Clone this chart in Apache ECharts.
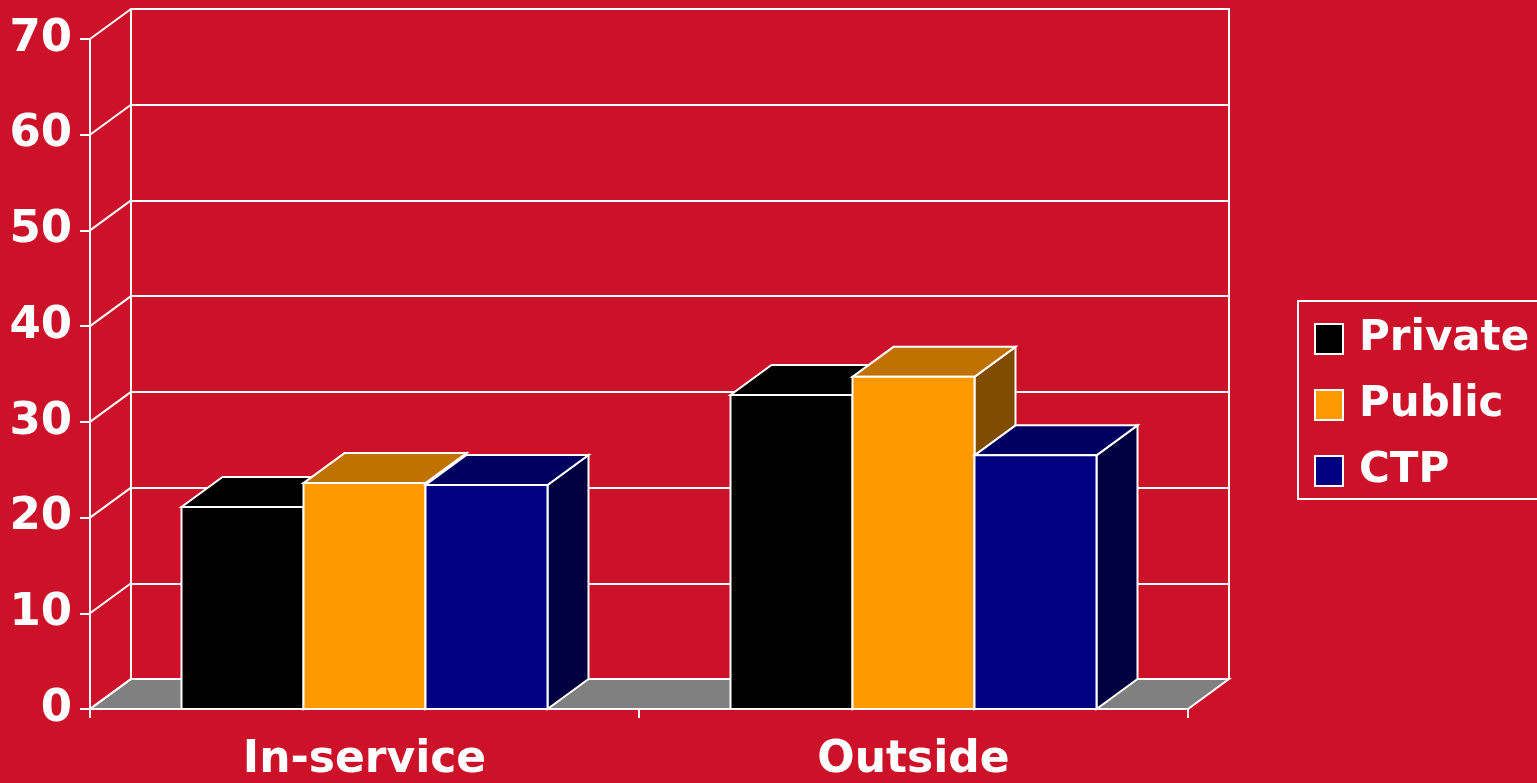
<!DOCTYPE html>
<html>
<head>
<meta charset="utf-8">
<title>In-service vs Outside</title>
<script src="https://cdn.jsdelivr.net/npm/echarts@6/dist/echarts.min.js"></script>
<style>
  html, body { margin: 0; padding: 0; background: #CC1128; }
  #chart { width: 1537px; height: 783px; }
</style>
</head>
<body>
<div id="chart"></div>
<script>
// ---- data ----
const categories = ['In-service', 'Outside'];
const seriesNames = ['Private', 'Public', 'CTP'];
const privateValues = [21.1, 32.8];
const publicValues = [23.6, 34.7];
const ctpValues = [23.4, 26.5];
const yTicks = [0, 10, 20, 30, 40, 50, 60, 70];

// ---- style ----
const BG = '#CC1128';
const FONT = 'DejaVu Sans';
const LINE_W = 2;
const DEPTH = [41, -30];          // screen offset from front plane to back wall
const FRONT = { left: 90, top: 39, width: 1098, height: 670 };
const GROUP_FRACTION = 2 / 3;     // share of a category band taken by the bar cluster
const faces = [
  { front: '#000000', top: '#000000', side: '#000000' },
  { front: '#FF9900', top: '#BF7200', side: '#7F4C00' },
  { front: '#000080', top: '#000060', side: '#000040' }
];
const EDGE = { stroke: '#ffffff', lineWidth: LINE_W, lineJoin: 'miter' };

const chart = echarts.init(document.getElementById('chart'), null, { renderer: 'canvas' });

function barRenderer(idx, face) {
  return function (params, api) {
    const cat = api.value(0);
    const val = api.value(1);
    const top = api.coord([cat, val]);
    const base = api.coord([cat, 0]);
    const band = api.size([1, 0])[0];
    const w = band * GROUP_FRACTION / 3;
    const x0 = top[0] - 1.5 * w + idx * w;
    const x1 = x0 + w;
    const yt = top[1], yb = base[1];
    const dx = DEPTH[0], dy = DEPTH[1];
    return {
      type: 'group',
      children: [
        { type: 'polygon', shape: { points: [[x1, yt], [x1 + dx, yt + dy], [x1 + dx, yb + dy], [x1, yb]] },
          style: Object.assign({ fill: face.side }, EDGE) },
        { type: 'polygon', shape: { points: [[x0, yt], [x1, yt], [x1 + dx, yt + dy], [x0 + dx, yt + dy]] },
          style: Object.assign({ fill: face.top }, EDGE) },
        { type: 'rect', shape: { x: x0, y: yt, width: w, height: yb - yt },
          style: Object.assign({ fill: face.front }, EDGE) }
      ]
    };
  };
}

const valueSets = [privateValues, publicValues, ctpValues];
const barSeries = seriesNames.map(function (name, i) {
  return {
    name: name,
    type: 'custom',
    xAxisIndex: 0,
    yAxisIndex: 0,
    z: 5,
    itemStyle: { color: faces[i].front, borderColor: '#ffffff', borderWidth: 1.5 },
    data: valueSets[i].map(function (v, c) { return [c, v]; }),
    renderItem: barRenderer(i, faces[i])
  };
});

// left side wall: slanted lines joining front ticks to back wall grid lines
const wallSeries = {
  type: 'custom',
  xAxisIndex: 0,
  yAxisIndex: 0,
  z: 3,
  silent: true,
  data: yTicks.map(function (v) { return [0, v]; }),
  renderItem: function (params, api) {
    const y = api.coord([0, api.value(1)])[1];
    const x = params.coordSys.x;
    return { type: 'line', shape: { x1: x, y1: y, x2: x + DEPTH[0], y2: y + DEPTH[1] },
             style: { stroke: '#ffffff', lineWidth: LINE_W } };
  }
};

// grey floor
const floorSeries = {
  type: 'custom',
  xAxisIndex: 0,
  yAxisIndex: 0,
  z: 2,
  silent: true,
  data: [[0, 0]],
  renderItem: function (params, api) {
    const cs = params.coordSys;
    const yb = api.coord([0, 0])[1];
    const dx = DEPTH[0], dy = DEPTH[1];
    return { type: 'polygon',
             shape: { points: [[cs.x, yb], [cs.x + cs.width, yb], [cs.x + cs.width + dx, yb + dy], [cs.x + dx, yb + dy]] },
             style: { fill: '#808080', stroke: '#ffffff', lineWidth: LINE_W } };
  }
};

const option = {
  backgroundColor: BG,
  animation: false,
  textStyle: { fontFamily: FONT },
  grid: [
    { left: FRONT.left, top: FRONT.top, width: FRONT.width, height: FRONT.height, containLabel: false },
    { left: FRONT.left + DEPTH[0], top: FRONT.top + DEPTH[1], width: FRONT.width, height: FRONT.height,
      show: true, borderColor: '#ffffff', borderWidth: LINE_W, backgroundColor: 'transparent', containLabel: false }
  ],
  xAxis: [
    {
      gridIndex: 0,
      type: 'category',
      data: categories,
      boundaryGap: true,
      axisLine: { show: true, lineStyle: { color: '#ffffff', width: LINE_W } },
      axisTick: { show: true, length: 9, lineStyle: { color: '#ffffff', width: LINE_W } },
      axisLabel: { color: '#ffffff', fontFamily: FONT, fontWeight: 'bold', fontSize: 44, margin: 30 },
      splitLine: { show: false }
    },
    {
      gridIndex: 1,
      type: 'category',
      data: categories,
      show: false
    }
  ],
  yAxis: [
    {
      gridIndex: 0,
      type: 'value',
      min: 0, max: 70, interval: 10,
      axisLine: { show: true, lineStyle: { color: '#ffffff', width: LINE_W } },
      axisTick: { show: true, length: 10, lineStyle: { color: '#ffffff', width: LINE_W } },
      axisLabel: { color: '#ffffff', fontFamily: FONT, fontWeight: 'bold', fontSize: 45, margin: 18 },
      splitLine: { show: false }
    },
    {
      gridIndex: 1,
      type: 'value',
      min: 0, max: 70, interval: 10,
      axisLine: { show: false },
      axisTick: { show: false },
      axisLabel: { show: false },
      splitLine: { show: true, lineStyle: { color: '#ffffff', width: LINE_W } }
    }
  ],
  legend: {
    data: seriesNames,
    orient: 'vertical',
    left: 1298,
    top: 301,
    padding: [16, 12, 6, 16],
    itemGap: 22,
    itemWidth: 28,
    itemHeight: 30,
    icon: 'rect',
    borderColor: '#ffffff',
    borderWidth: LINE_W,
    textStyle: { color: '#ffffff', fontFamily: FONT, fontWeight: 'bold', fontSize: 42, lineHeight: 44, padding: [0, 0, 0, 11] }
  },
  series: [floorSeries, wallSeries].concat(barSeries)
};

chart.setOption(option);
</script>
</body>
</html>
